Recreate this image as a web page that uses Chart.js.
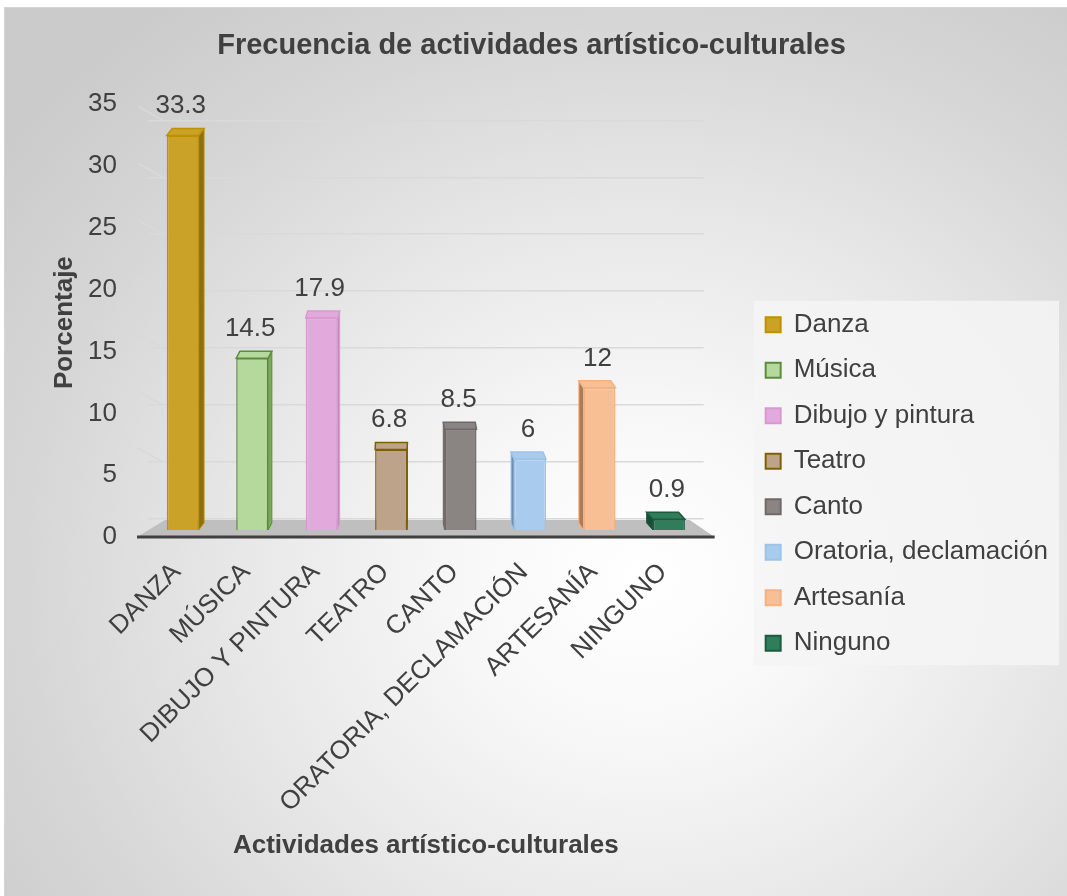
<!DOCTYPE html>
<html>
<head>
<meta charset="utf-8">
<script src="https://cdn.jsdelivr.net/npm/chart.js@4.4.1/dist/chart.umd.min.js"></script>
<style>
  html, body { margin: 0; padding: 0; background: #ffffff; }
  #frame {
    position: absolute; left: 5px; top: 8px; width: 1062px; height: 888px;
    background: radial-gradient(ellipse 75% 80% at 60% 64%, #ffffff 0%, #f8f8f8 22%, #e8e8e8 50%, #d6d6d6 78%, #cbcbcb 100%);
    box-shadow: 0 0 0 1px #d4d4d4;
  }
  canvas { position: absolute; left: 0; top: 0; }
</style>
</head>
<body>
<div id="frame"><canvas id="c" width="1062" height="888"></canvas></div>
<script>
// ---- data ----
const categories = ["DANZA", "MÚSICA", "DIBUJO Y PINTURA", "TEATRO", "CANTO", "ORATORIA, DECLAMACIÓN", "ARTESANÍA", "NINGUNO"];
const legendLabels = ["Danza", "Música", "Dibujo y pintura", "Teatro", "Canto", "Oratoria, declamación", "Artesanía", "Ninguno"];
const values = [33.3, 14.5, 17.9, 6.8, 8.5, 6, 12, 0.9];
const yTicks = [0, 5, 10, 15, 20, 25, 30, 35];

// ---- styles ----
const fillColors   = ["#c9a227", "#b5d99c", "#e2aadc", "#bca38a", "#8a8483", "#a9cbee", "#f8bf95", "#2f7d5a"];
const borderColors = ["#bf9000", "#5b8c3a", "#d79ad0", "#7f6000", "#6f6a69", "#9dc3e6", "#f4b183", "#1e5a3f"];
const sideColors   = ["#8f6f0c", "#7aa85c", "#c08ab9", "#8a7055", "#5e5a59", "#6f8fb0", "#b07a55", "#1a4d36"];
const FONT = "'Liberation Sans', Arial, sans-serif";
const TXT = "#404040";
const GRID = "#d9d9d9";

const threeD = {
  id: 'threeD',
  beforeDatasetsDraw(chart) {
    const ctx = chart.ctx, a = chart.chartArea;
    const back = a.bottom - 10, front = a.bottom + 7;
    ctx.save();
    // side-wall parts of the back gridlines
    const gs = chart.scales.yGrid;
    ctx.strokeStyle = GRID;
    ctx.lineWidth = 1.5;
    yTicks.forEach(v => {
      if (v === 0) return;
      const py = gs.getPixelForValue(v);
      ctx.beginPath();
      ctx.moveTo(a.left - 10, py - 14);
      ctx.lineTo(a.left + 15, py);
      ctx.stroke();
    });
    // floor
    ctx.fillStyle = "#bfbfbf";
    ctx.beginPath();
    ctx.moveTo(a.left - 11, front);
    ctx.lineTo(a.right + 11, front);
    ctx.lineTo(a.right - 14, back);
    ctx.lineTo(a.left + 17, back);
    ctx.closePath();
    ctx.fill();
    ctx.strokeStyle = "#404040";
    ctx.lineWidth = 3;
    ctx.beginPath();
    ctx.moveTo(a.left - 11, front);
    ctx.lineTo(a.right + 11, front);
    ctx.stroke();
    ctx.restore();
  },
  afterDatasetsDraw(chart) {
    const ctx = chart.ctx, a = chart.chartArea;
    const meta = chart.getDatasetMeta(0);
    const vp = (a.left + a.right) / 2 - 20;
    ctx.save();
    meta.data.forEach((bar, i) => {
      const w = bar.width, x = bar.x, y = bar.y, base = bar.base;
      const dx = (vp - x) * 0.024, dy = -7;
      const xl = x - w / 2, xr = x + w / 2;
      ctx.fillStyle = sideColors[i];
      ctx.strokeStyle = borderColors[i];
      ctx.lineWidth = 1;
      const xs = dx >= 0 ? xr : xl;
      ctx.beginPath();
      ctx.moveTo(xs, y);
      ctx.lineTo(xs + dx, y + dy);
      ctx.lineTo(xs + dx, base + dy);
      ctx.lineTo(xs, base);
      ctx.closePath();
      ctx.fill();
      ctx.stroke();
      ctx.fillStyle = fillColors[i];
      ctx.beginPath();
      ctx.moveTo(xl, y);
      ctx.lineTo(xr, y);
      ctx.lineTo(xr + dx, y + dy);
      ctx.lineTo(xl + dx, y + dy);
      ctx.closePath();
      ctx.fill();
      ctx.lineWidth = 1.5;
      ctx.stroke();
      ctx.fillStyle = TXT;
      ctx.font = "26px " + FONT;
      ctx.textAlign = "center";
      ctx.textBaseline = "alphabetic";
      ctx.fillText(String(values[i]), x - 2, y - 22);
    });
    ctx.restore();
  }
};

const legendBg = {
  id: 'legendBg',
  beforeDraw(chart) {
    const lg = chart.legend;
    if (!lg || !lg.legendHitBoxes || !lg.legendHitBoxes.length) return;
    const hb = lg.legendHitBoxes;
    const first = hb[0], last = hb[hb.length - 1];
    const left = first.left - 12;
    const top = first.top - 11;
    const bottom = last.top + last.height + 9;
    const right = lg.right + 1;
    const ctx = chart.ctx;
    ctx.save();
    ctx.fillStyle = "rgba(244,244,244,0.85)";
    ctx.fillRect(left, top, right - left, bottom - top);
    ctx.restore();
  }
};

new Chart(document.getElementById('c'), {
  type: 'bar',
  data: {
    labels: categories,
    datasets: [{
      label: 'Porcentaje',
      data: values,
      backgroundColor: fillColors,
      borderColor: borderColors,
      borderWidth: 1.5,
      categoryPercentage: 1,
      barPercentage: 0.46,
      yAxisID: 'y'
    }]
  },
  options: {
    responsive: false,
    animation: false,
    devicePixelRatio: 1,
    layout: { padding: { left: 0, right: 9, top: 0, bottom: 0 } },
    plugins: {
      title: {
        display: true,
        text: 'Frecuencia de actividades artístico-culturales',
        color: TXT,
        font: { family: FONT, size: 29, weight: 'bold' },
        padding: { top: 21, bottom: 5 }
      },
      legend: {
        display: true,
        position: 'right',
        maxWidth: 420,
        title: { display: true, text: '', font: { size: 10 }, padding: { top: 26, bottom: 26 } },
        labels: {
          color: TXT,
          font: { family: FONT, size: 26 },
          boxWidth: 15,
          boxHeight: 15,
          padding: 19.5,
          generateLabels() {
            return legendLabels.map((t, i) => ({
              text: t,
              fillStyle: fillColors[i],
              strokeStyle: borderColors[i],
              lineWidth: 2,
              fontColor: TXT,
              hidden: false,
              index: i
            }));
          }
        },
        onClick() {}
      },
      tooltip: { enabled: false }
    },
    scales: {
      x: {
        position: 'bottom',
        grid: { display: false },
        border: { display: false },
        ticks: {
          color: TXT,
          font: { family: FONT, size: 26 },
          minRotation: 45,
          maxRotation: 45,
          autoSkip: false,
          padding: 19,
          labelOffset: -6
        },
        title: {
          display: true,
          text: 'Actividades artístico-culturales',
          color: TXT,
          font: { family: FONT, size: 26, weight: 'bold' },
          padding: { top: 0, bottom: 35 }
        },
        afterFit(s) { s.height = 366; }
      },
      xTop: {
        type: 'linear',
        position: 'top',
        display: true,
        grid: { display: false },
        border: { display: false },
        ticks: { display: false },
        afterFit(s) { s.height = 46.5; }
      },
      // value scale of the bars (front plane)
      y: {
        min: 0,
        max: 35,
        display: false
      },
      // back-wall gridlines
      yGrid: {
        type: 'linear',
        position: 'left',
        min: -0.965,
        max: 35.44,
        afterBuildTicks(s) { s.ticks = yTicks.map(v => ({ value: v })); },
        grid: { color: GRID, lineWidth: 1.5, drawTicks: false },
        border: { display: false },
        ticks: { display: false },
        afterFit(s) { s.width = 0; }
      },
      // tick labels (front plane, perspective)
      yLab: {
        type: 'linear',
        position: 'left',
        min: 0.566,
        max: 34.11,
        afterBuildTicks(s) { s.ticks = yTicks.map(v => ({ value: v })); },
        grid: { display: false },
        border: { display: false },
        ticks: {
          color: TXT,
          font: { family: FONT, size: 26 },
          padding: 23
        },
        title: {
          display: true,
          text: 'Porcentaje',
          color: TXT,
          font: { family: FONT, size: 26, weight: 'bold' },
          padding: { top: 44, bottom: 0 }
        },
        afterFit(s) { s.width = 143; }
      },
      yRight: {
        type: 'linear',
        position: 'right',
        display: true,
        grid: { display: false },
        border: { display: false },
        ticks: { display: false },
        afterFit(s) { s.width = 42.5; }
      }
    }
  },
  plugins: [legendBg, threeD]
});
</script>
</body>
</html>
